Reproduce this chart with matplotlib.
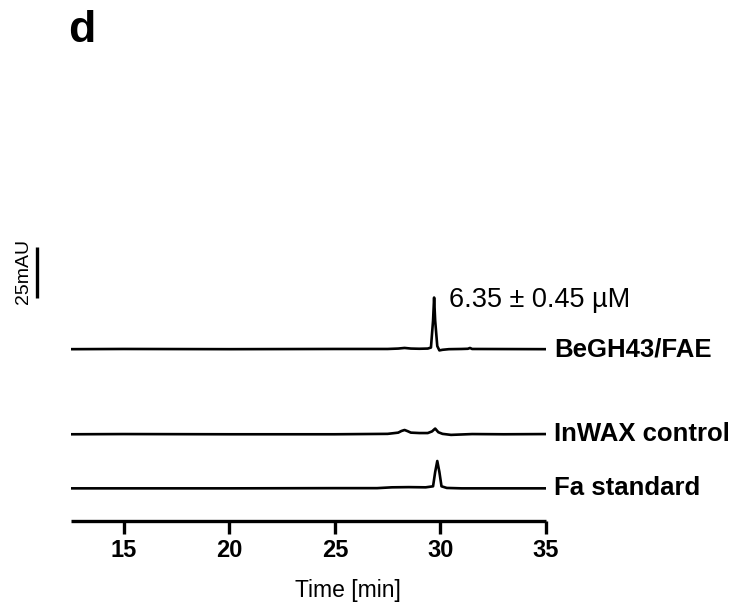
import numpy as np
import matplotlib
matplotlib.use("Agg")
import matplotlib.pyplot as plt

plt.rcParams['font.family'] = ['Liberation Sans', 'DejaVu Sans']

# retention time [min] and absorbance [mAU]
fae_time = [12.5, 15.0, 20.0, 25.0, 27.5, 28.0, 28.3, 28.6, 29.0, 29.4, 29.55,
            29.65, 29.7, 29.75, 29.85, 29.95, 30.1, 30.4, 31.0, 31.3, 31.4, 31.5, 35.0]
fae_abs = [0.0, 0.1, 0.0, 0.1, 0.1, 0.3, 0.6, 0.3, 0.2, 0.3, 0.8,
           14.0, 25.3, 14.0, 1.5, -0.6, -0.3, 0.0, 0.1, 0.2, 0.6, 0.1, 0.0]

wax_time = [12.5, 15.0, 20.0, 25.0, 27.5, 28.0, 28.15, 28.3, 28.45, 28.6, 29.0,
            29.4, 29.6, 29.75, 29.9, 30.1, 30.5, 31.0, 31.5, 33.0, 35.0]
wax_abs = [0.0, 0.1, 0.0, 0.0, 0.2, 0.8, 1.6, 2.1, 1.5, 0.8, 0.6,
           0.6, 1.4, 2.8, 1.0, 0.2, -0.3, -0.1, 0.1, 0.0, 0.1]

fa_time = [12.5, 15.0, 20.0, 25.0, 27.0, 27.7, 28.5, 29.3, 29.65, 29.75,
           29.85, 29.95, 30.05, 30.3, 31.0, 33.0, 35.0]
fa_abs = [0.0, 0.0, 0.0, 0.1, 0.1, 0.5, 0.6, 0.5, 1.0, 8.0,
          13.4, 8.0, 1.0, 0.2, 0.0, 0.0, 0.0]

trace_labels = ['BeGH43/FAE', 'InWAX control', 'Fa standard']
peak_note = '6.35 \u00b1 0.45 \u00b5M'
ticks = [15, 20, 25, 30, 35]

fig = plt.figure(figsize=(7.42, 6.03), dpi=100)
ax = fig.add_axes([71 / 742, 82 / 603, 475 / 742, 281 / 603])

traces = [(fae_time, fae_abs), (wax_time, wax_abs), (fa_time, fa_abs)]
offsets = [84.2, 42.5, 16.0]
for (t, a), off, lab in zip(traces, offsets, trace_labels):
    ax.plot(t, np.array(a) + off, color='black', lw=1.9, solid_joinstyle='round')
    ax.text(35.4, off, lab, fontsize=18.5, fontweight='bold', va='center', ha='left',
            clip_on=False)

ax.text(30.4, 104.9, peak_note, fontsize=19.5, ha='left', va='baseline')

# scale bar
ax.plot([10.89, 10.89], [109.3, 134.3], color='black', lw=2.4, clip_on=False,
        solid_capstyle='butt')
ax.text(10.25, 122.5, '25mAU', rotation=90, fontsize=14, ha='center', va='center',
        clip_on=False)

ax.set_xlim(12.5, 35)
ax.set_ylim(0, 137.7)
ax.set_xticks(ticks)
ax.set_xticklabels([str(v) for v in ticks], fontsize=17, fontweight='bold')
ax.tick_params(axis='x', direction='out', length=9, width=2.4, pad=4)
ax.set_yticks([])
for s in ['top', 'right', 'left']:
    ax.spines[s].set_visible(False)
ax.spines['bottom'].set_linewidth(2.4)
ax.spines['bottom'].set_capstyle('butt')

fig.text(295 / 742, 0.5 / 603, 'Time [min]', fontsize=16.5, ha='left', va='bottom')

fig.text(68 / 742, 1 - 42 / 603, 'd', fontsize=32, fontweight='bold', ha='left',
         va='baseline')

fig.savefig('out.png', dpi=100)
